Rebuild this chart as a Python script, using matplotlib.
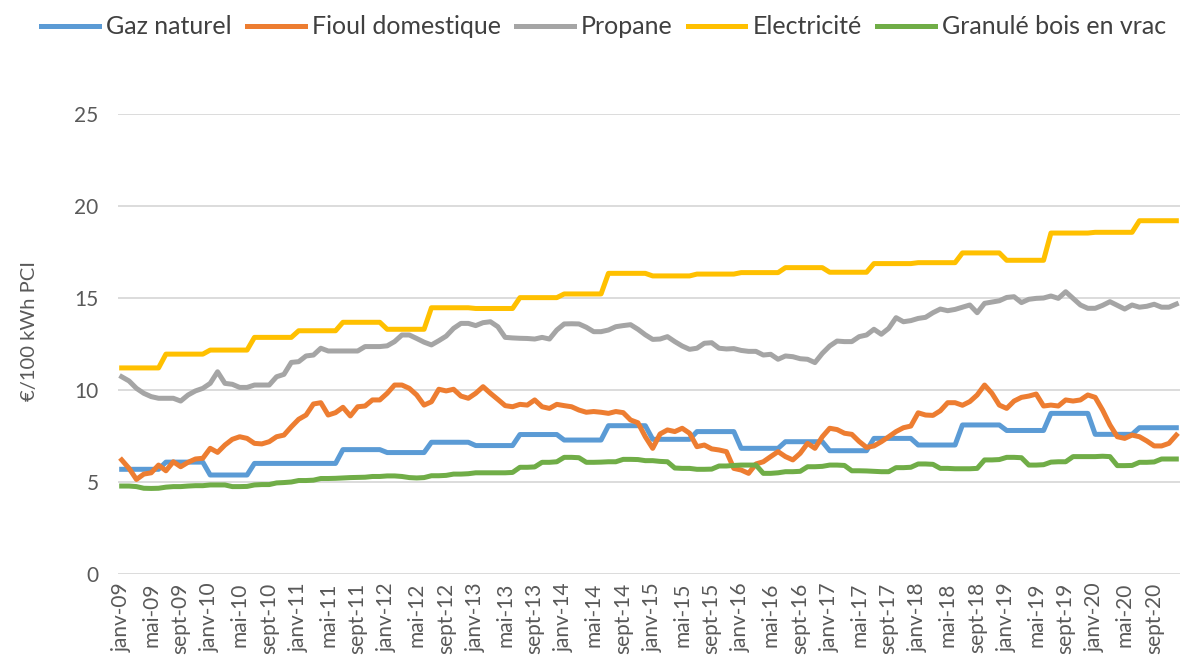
import numpy as np
import matplotlib
matplotlib.use("Agg")
import matplotlib.pyplot as plt

# prix mensuels janv-09 .. déc-20, en €/100 kWh PCI
years = list(range(2009, 2021))
tick_months = ["janv", "mai", "sept"]

gaz_naturel = [
    5.69, 5.69, 5.69, 5.69, 5.69, 5.69, 6.08, 6.08, 6.08, 6.08, 6.08, 6.08,
    5.38, 5.38, 5.38, 5.38, 5.38, 5.38, 6.01, 6.01, 6.01, 6.01, 6.01, 6.01,
    6.01, 6.01, 6.01, 6.01, 6.01, 6.01, 6.76, 6.76, 6.76, 6.76, 6.76, 6.76,
    6.60, 6.60, 6.60, 6.60, 6.60, 6.60, 7.16, 7.16, 7.16, 7.16, 7.16, 7.16,
    6.98, 6.98, 6.98, 6.98, 6.98, 6.98, 7.58, 7.58, 7.58, 7.58, 7.58, 7.58,
    7.28, 7.28, 7.28, 7.28, 7.28, 7.28, 8.06, 8.06, 8.06, 8.06, 8.06, 8.06,
    7.32, 7.32, 7.32, 7.32, 7.32, 7.32, 7.74, 7.74, 7.74, 7.74, 7.74, 7.74,
    6.83, 6.83, 6.83, 6.83, 6.83, 6.83, 7.19, 7.19, 7.19, 7.19, 7.19, 7.19,
    6.70, 6.70, 6.70, 6.70, 6.70, 6.70, 7.37, 7.37, 7.37, 7.37, 7.37, 7.37,
    7.01, 7.01, 7.01, 7.01, 7.01, 7.01, 8.10, 8.10, 8.10, 8.10, 8.10, 8.10,
    7.80, 7.80, 7.80, 7.80, 7.80, 7.80, 8.73, 8.73, 8.73, 8.73, 8.73, 8.73,
    7.59, 7.59, 7.59, 7.59, 7.59, 7.59, 7.95, 7.95, 7.95, 7.95, 7.95, 7.95,
]

fioul_domestique = [
    6.20, 5.74, 5.14, 5.43, 5.50, 5.92, 5.61, 6.10, 5.83, 6.07, 6.25, 6.29,
    6.83, 6.61, 7.01, 7.32, 7.46, 7.37, 7.10, 7.07, 7.19, 7.46, 7.55, 8.00,
    8.41, 8.64, 9.24, 9.31, 8.64, 8.77, 9.06, 8.59, 9.09, 9.13, 9.46, 9.46,
    9.82, 10.27, 10.27, 10.09, 9.73, 9.18, 9.36, 10.04, 9.95, 10.04, 9.67, 9.55,
    9.82, 10.18, 9.82, 9.49, 9.15, 9.09, 9.22, 9.18, 9.46, 9.09, 9.00, 9.22,
    9.15, 9.09, 8.91, 8.79, 8.83, 8.79, 8.73, 8.83, 8.77, 8.37, 8.22, 7.46,
    6.83, 7.61, 7.83, 7.74, 7.92, 7.65, 6.92, 7.01, 6.80, 6.74, 6.65, 5.74,
    5.65, 5.47, 5.98, 6.10, 6.38, 6.65, 6.38, 6.20, 6.56, 7.10, 6.83, 7.46,
    7.92, 7.85, 7.65, 7.59, 7.20, 6.88, 6.96, 7.19, 7.46, 7.74, 7.95, 8.04,
    8.76, 8.64, 8.62, 8.87, 9.31, 9.31, 9.17, 9.37, 9.73, 10.27, 9.82, 9.18,
    9.00, 9.40, 9.60, 9.67, 9.78, 9.13, 9.18, 9.13, 9.46, 9.40, 9.46, 9.73,
    9.60, 8.91, 8.10, 7.46, 7.37, 7.55, 7.46, 7.23, 6.96, 6.96, 7.10, 7.55,
]

propane = [
    10.72, 10.49, 10.09, 9.82, 9.64, 9.55, 9.55, 9.55, 9.40, 9.73, 9.95, 10.09,
    10.36, 10.99, 10.36, 10.31, 10.14, 10.14, 10.27, 10.27, 10.27, 10.72, 10.85, 11.50,
    11.54, 11.85, 11.90, 12.27, 12.12, 12.12, 12.12, 12.12, 12.12, 12.36, 12.36, 12.36,
    12.40, 12.63, 12.99, 12.99, 12.80, 12.60, 12.45, 12.68, 12.93, 13.35, 13.62, 13.62,
    13.50, 13.66, 13.71, 13.44, 12.86, 12.83, 12.81, 12.80, 12.77, 12.86, 12.77, 13.26,
    13.59, 13.60, 13.59, 13.41, 13.17, 13.17, 13.26, 13.44, 13.50, 13.55, 13.30, 13.00,
    12.75, 12.77, 12.90, 12.63, 12.39, 12.21, 12.27, 12.54, 12.57, 12.27, 12.23, 12.25,
    12.15, 12.10, 12.10, 11.90, 11.94, 11.67, 11.85, 11.81, 11.70, 11.67, 11.49, 11.99,
    12.39, 12.66, 12.63, 12.63, 12.90, 12.99, 13.30, 13.03, 13.35, 13.93, 13.71, 13.77,
    13.89, 13.95, 14.20, 14.40, 14.31, 14.38, 14.50, 14.62, 14.20, 14.71, 14.78, 14.85,
    15.03, 15.07, 14.75, 14.93, 14.98, 15.00, 15.11, 14.98, 15.34, 14.98, 14.62, 14.44,
    14.44, 14.60, 14.80, 14.60, 14.40, 14.62, 14.50, 14.55, 14.66, 14.50, 14.50, 14.67,
]

electricite = [
    11.20, 11.20, 11.20, 11.20, 11.20, 11.20, 11.95, 11.95, 11.95, 11.95, 11.95, 11.95,
    12.17, 12.17, 12.17, 12.17, 12.17, 12.17, 12.86, 12.86, 12.86, 12.86, 12.86, 12.86,
    13.22, 13.22, 13.22, 13.22, 13.22, 13.22, 13.68, 13.68, 13.68, 13.68, 13.68, 13.68,
    13.30, 13.30, 13.30, 13.30, 13.30, 13.30, 14.47, 14.47, 14.47, 14.47, 14.47, 14.47,
    14.43, 14.43, 14.43, 14.43, 14.43, 14.43, 15.02, 15.02, 15.02, 15.02, 15.02, 15.02,
    15.22, 15.22, 15.22, 15.22, 15.22, 15.22, 16.34, 16.34, 16.34, 16.34, 16.34, 16.34,
    16.20, 16.20, 16.20, 16.20, 16.20, 16.20, 16.30, 16.30, 16.30, 16.30, 16.30, 16.30,
    16.38, 16.38, 16.38, 16.38, 16.38, 16.38, 16.65, 16.65, 16.65, 16.65, 16.65, 16.65,
    16.40, 16.40, 16.40, 16.40, 16.40, 16.40, 16.87, 16.87, 16.87, 16.87, 16.87, 16.87,
    16.92, 16.92, 16.92, 16.92, 16.92, 16.92, 17.45, 17.45, 17.45, 17.45, 17.45, 17.45,
    17.05, 17.05, 17.05, 17.05, 17.05, 17.05, 18.53, 18.53, 18.53, 18.53, 18.53, 18.53,
    18.57, 18.57, 18.57, 18.57, 18.57, 18.57, 19.20, 19.20, 19.20, 19.20, 19.20, 19.20,
]

granule_bois = [
    4.78, 4.78, 4.75, 4.66, 4.65, 4.66, 4.72, 4.75, 4.75, 4.78, 4.80, 4.80,
    4.84, 4.84, 4.84, 4.75, 4.75, 4.76, 4.84, 4.86, 4.86, 4.95, 4.97, 5.00,
    5.08, 5.08, 5.10, 5.19, 5.19, 5.20, 5.22, 5.24, 5.25, 5.26, 5.30, 5.30,
    5.33, 5.33, 5.30, 5.24, 5.22, 5.24, 5.34, 5.34, 5.36, 5.43, 5.43, 5.45,
    5.50, 5.50, 5.50, 5.50, 5.50, 5.52, 5.80, 5.80, 5.82, 6.07, 6.07, 6.10,
    6.34, 6.34, 6.32, 6.07, 6.07, 6.08, 6.10, 6.10, 6.23, 6.23, 6.22, 6.16,
    6.16, 6.12, 6.10, 5.76, 5.74, 5.74, 5.69, 5.69, 5.70, 5.87, 5.87, 5.90,
    5.92, 5.92, 5.92, 5.47, 5.47, 5.50, 5.56, 5.56, 5.58, 5.83, 5.83, 5.85,
    5.92, 5.92, 5.90, 5.61, 5.61, 5.60, 5.58, 5.56, 5.56, 5.78, 5.78, 5.80,
    5.98, 5.98, 5.96, 5.74, 5.74, 5.72, 5.72, 5.72, 5.74, 6.20, 6.20, 6.22,
    6.34, 6.34, 6.32, 5.92, 5.92, 5.94, 6.08, 6.10, 6.10, 6.38, 6.38, 6.38,
    6.38, 6.40, 6.38, 5.89, 5.89, 5.90, 6.07, 6.07, 6.09, 6.25, 6.25, 6.25,
]

series = [
    ("Gaz naturel", gaz_naturel, "#5B9BD5"),
    ("Fioul domestique", fioul_domestique, "#ED7D31"),
    ("Propane", propane, "#A5A5A5"),
    ("Electricité", electricite, "#FFC000"),
    ("Granulé bois en vrac", granule_bois, "#70AD47"),
]

tick_labels = [f"{m}-{y % 100:02d}" for y in years for m in tick_months]

plt.rcParams["font.family"] = ["Lato", "DejaVu Sans"]

fig = plt.figure(figsize=(11.84, 6.62), dpi=100)
ax = fig.add_axes([118 / 1184, 1 - 574 / 662, 1062 / 1184, 460 / 662])

x = np.arange(len(gaz_naturel))
for name, vals, color in series:
    ax.plot(x, vals, color=color, lw=3.6, label=name, solid_joinstyle="round")

ax.set_xlim(-0.5, len(x) - 0.5)
ax.set_ylim(0, 25)
ax.set_yticks(range(0, 26, 5))
ax.set_xticks(x[::4])
ax.set_xticklabels(tick_labels, rotation=90, va="top", ha="center")
ax.tick_params(axis="both", length=0, colors="#595959", labelsize=15)
ax.tick_params(axis="y", pad=14)
ax.tick_params(axis="x", pad=6)
ax.grid(axis="y", color="#D9D9D9", lw=1.3)
ax.set_axisbelow(True)
for s in ax.spines.values():
    s.set_visible(False)

fig.text(30 / 1184, 0.5, "€/100 kWh PCI", rotation=90, ha="center", va="center",
         fontsize=14.5, color="#595959")

fig.legend(loc="center", bbox_to_anchor=(0.51, 1 - 27 / 662), ncol=5,
           frameon=False, fontsize=18, handlelength=2.3, columnspacing=0.6,
           handletextpad=0.3, labelcolor="#404040")

fig.savefig("out.png", dpi=100)
